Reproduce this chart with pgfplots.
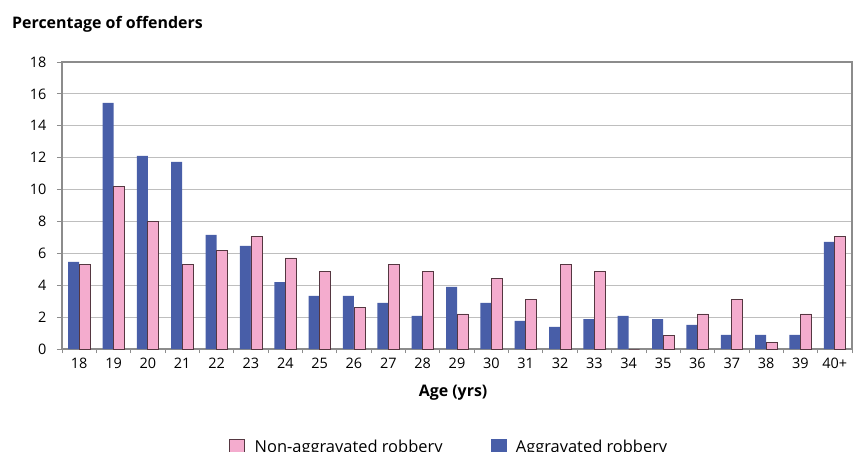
\documentclass[border=0pt]{standalone}
\usepackage{pgfplots}
\pgfplotsset{compat=1.18}
\usepackage{fontspec}
\setmainfont{Open Sans}
\definecolor{agg}{RGB}{72,94,168}
\definecolor{nonagg}{RGB}{244,172,206}
\definecolor{pinkedge}{RGB}{85,55,65}
\definecolor{gridc}{RGB}{190,190,190}
\definecolor{axc}{RGB}{140,140,140}
\pgfplotstableread{
x agg nonagg
0 5.46 5.31
1 15.44 10.21
2 12.11 7.99
3 11.74 5.31
4 7.15 6.19
5 6.46 7.05
6 4.20 5.71
7 3.33 4.85
8 3.33 2.62
9 2.89 5.31
10 2.07 4.85
11 3.89 2.20
12 2.89 4.44
13 1.76 3.10
14 1.38 5.31
15 1.88 4.85
16 2.07 0
17 1.88 0.86
18 1.51 2.20
19 0.88 3.10
20 0.88 0.40
21 0.88 2.20
22 6.72 7.05
}\datatable
\begin{document}
\begin{tikzpicture}
\useasboundingbox (-62bp,-103bp) rectangle (806bp,349bp);
\begin{axis}[
  at={(0,0)}, anchor=south west,
  scale only axis, width=790bp, height=287bp,
  xmin=-0.5, xmax=22.5, ymin=0, ymax=18,
  ytick={0,2,...,18},
  xtick={0,...,22},
  xticklabels={18,19,20,21,22,23,24,25,26,27,28,29,30,31,32,33,34,35,36,37,38,39,40+},
  minor xtick={-0.5,0.5,...,22.5},
  tick pos=left,
  tick align=outside,
  major tick length=5bp,
  minor tick length=4bp,
  major x tick style={draw=none},
  minor x tick style={axc, line width=0.8bp},
  major y tick style={axc, line width=0.8bp},
  ymajorgrids,
  major grid style={gridc, line width=1bp},
  axis line style={axc, line width=1.2bp},
  /pgf/number format/assume math mode=true,
  ticklabel style={font=\fontsize{14.5}{17}\selectfont},
  yticklabel style={xshift=-7bp},
  xticklabel style={yshift=-1bp},
  xlabel={\textbf{Age (yrs)}},
  xlabel style={font=\fontsize{16}{19}\selectfont, at={(axis description cs:0.495,-0.153)}, anchor=center},
  legend style={at={(axis description cs:0.49,-0.34)}, anchor=center, draw=none, fill=none,
    legend columns=2, font=\fontsize{16.5}{19}\selectfont,
    /tikz/every odd column/.append style={column sep=8bp},
    /tikz/every even column/.append style={column sep=46bp},
    legend cell align=left},
  legend image code/.code={\draw[#1] (0bp,-7.5bp) rectangle (15bp,7.5bp);},
  clip=false,
]
\addplot[ybar, bar width=11bp, bar shift=-5.5bp, fill=agg, draw=none, forget plot] table[x=x, y=agg] {\datatable};
\addplot[ybar, bar width=11bp, bar shift=5.5bp, fill=nonagg, draw=pinkedge, line width=0.8bp, forget plot] table[x=x, y=nonagg] {\datatable};
\addlegendimage{fill=nonagg, draw=pinkedge, line width=0.8bp}
\addlegendentry{Non-aggravated robbery}
\addlegendimage{fill=agg, draw=agg}
\addlegendentry{Aggravated robbery}
\node[anchor=base west, font=\bfseries\fontsize{16}{19}\selectfont, inner sep=0pt] at ([xshift=-50bp, yshift=33bp]rel axis cs:0,1) {Percentage of offenders};
\end{axis}
\end{tikzpicture}
\end{document}
